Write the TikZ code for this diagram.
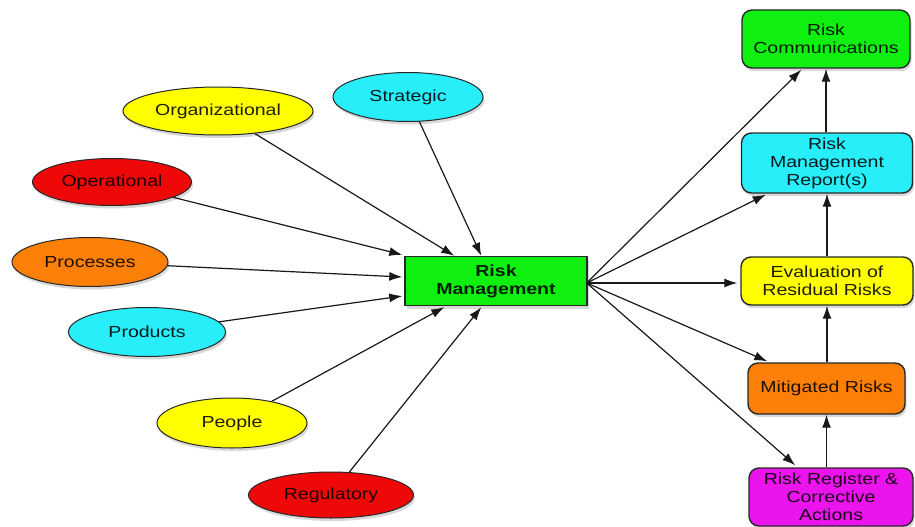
\documentclass[tikz,border=0pt]{standalone}
\usepackage{fontspec}
\setmainfont[FakeStretch=1.22]{Liberation Sans}
\usetikzlibrary{shapes.geometric,shadows,arrows.meta,calc}
\definecolor{cyellow}{RGB}{255,255,0}
\definecolor{ccyan}{RGB}{40,238,250}
\definecolor{cred}{RGB}{238,8,8}
\definecolor{corange}{RGB}{252,128,8}
\definecolor{cgreen}{RGB}{16,240,16}
\definecolor{cmagenta}{RGB}{236,20,236}
\definecolor{cedge}{RGB}{40,40,40}
\begin{document}
\begin{tikzpicture}[x=1pt,y=-1pt,
  every node/.style={font=\fontsize{16}{18}\selectfont, text opacity=0.88, align=center},
  oval/.style={ellipse, draw=cedge, line width=1pt, inner sep=0pt,
    drop shadow={opacity=0.3, shadow xshift=1.5pt, shadow yshift=-3pt}},
  rbox/.style={rectangle, rounded corners=10pt, draw=cedge, line width=1.4pt, inner sep=0pt,
    drop shadow={opacity=0.3, shadow xshift=1.5pt, shadow yshift=-3pt}},
  arr/.style={draw=black!90, line width=1.2pt, -{Latex[length=13pt,width=9pt]}}]
\useasboundingbox (0,0) rectangle (915,527);
\fill[white] (0,0) rectangle (915,527);

% left ellipses
\node[oval, fill=cyellow, minimum width=190pt, minimum height=48pt] (org) at (218,111) {Organizational};
\node[oval, fill=ccyan, minimum width=150pt, minimum height=49pt] (str) at (408,97) {Strategic};
\node[oval, fill=cred, minimum width=159pt, minimum height=47pt] (ope) at (112,182) {Operational};
\node[oval, fill=corange, minimum width=156pt, minimum height=49pt] (pro) at (90,262) {Processes};
\node[oval, fill=ccyan, minimum width=157pt, minimum height=49pt] (prd) at (147,332) {Products};
\node[oval, fill=cyellow, minimum width=150pt, minimum height=50pt] (peo) at (232,423) {People};
\node[oval, fill=cred, minimum width=165pt, minimum height=46pt] (reg) at (331,495) {Regulatory};

% centre
\node[rectangle, draw=cedge, line width=1.4pt, fill=cgreen, minimum width=182pt, minimum height=49pt, inner sep=0pt,
  font=\fontsize{16}{18}\selectfont\bfseries,
  drop shadow={opacity=0.3, shadow xshift=1.5pt, shadow yshift=-3pt}] (rm) at (496,281) {Risk\\Management};

% right boxes
\node[rbox, fill=cgreen, minimum width=168pt, minimum height=58pt] (com) at (826,39) {Risk\\Communications};
\node[rbox, fill=ccyan, minimum width=171pt, minimum height=60pt] (rep) at (827,163) {Risk\\Management\\Report(s)};
\node[rbox, fill=cyellow, minimum width=172pt, minimum height=48pt] (eva) at (827,281) {Evaluation of\\Residual Risks};
\node[rbox, fill=corange, minimum width=157pt, minimum height=51pt] (mit) at (826.5,388.5) {Mitigated Risks};
\node[rbox, fill=cmagenta, minimum width=164pt, minimum height=58pt] (rrc) at (831,497) {Risk Register \&\\Corrective\\Actions};

% inputs
\draw[arr] (org) -- ($(rm.north west)+(50,0)$);
\draw[arr] (str) -- ($(rm.north west)+(77,0)$);
\draw[arr] (ope) -- ($(rm.north west)+(-2,-1)$);
\draw[arr] (pro) -- ($(rm.west)+(-2,-4)$);
\draw[arr] (prd) -- ($(rm.west)+(-2,15)$);
\draw[arr] (peo) -- ($(rm.south west)+(40,1)$);
\draw[arr] (reg) -- ($(rm.south west)+(77,1)$);

% outputs
\coordinate (src) at ($(rm.east)+(-1,2)$);
\draw[arr] (src) -- ($(com.south west)+(60,1)$);
\draw[arr] (src) -- ($(rep.south west)+(25,1)$);
\draw[arr] (src) -- ($(eva.west)+(-3,2)$);
\draw[arr] (src) -- ($(mit.north west)+(20,-1)$);
\draw[arr] (src) -- ($(rrc.north west)+(47,-2)$);

% chain
\draw[arr] (mit.south |- rrc.north) -- (mit.south);
\draw[arr] (eva.south |- mit.north) -- (eva.south);
\draw[arr] (rep.south |- eva.north) -- (rep.south);
\draw[arr] (com.south |- rep.north) -- (com.south);
\end{tikzpicture}
\end{document}
